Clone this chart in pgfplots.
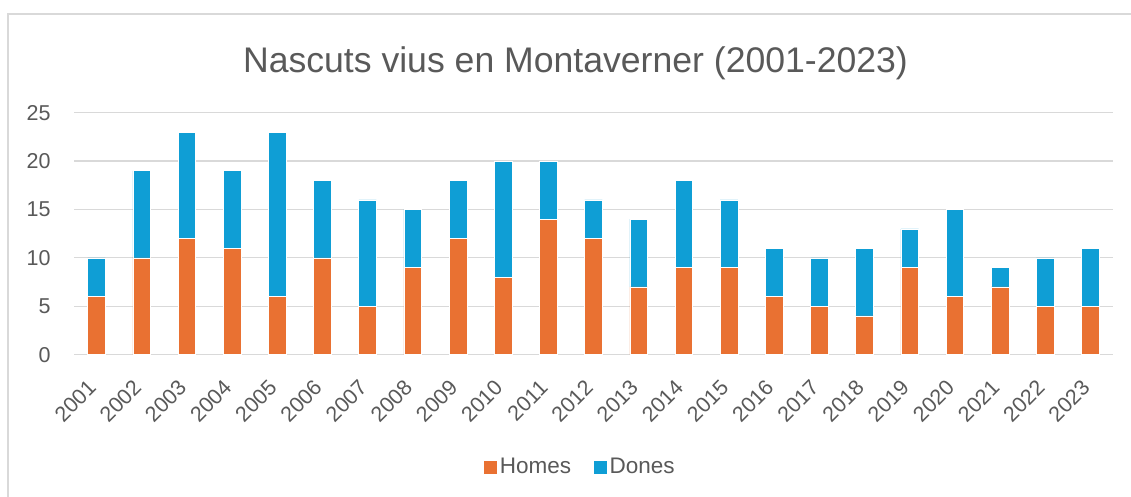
\documentclass[border=0pt]{standalone}
\usepackage{pgfplots}
\pgfplotsset{compat=1.18}
\usepackage{fontspec}
\setmainfont{Liberation Sans}
\definecolor{homes}{HTML}{E97132}
\definecolor{dones}{HTML}{0F9ED5}
\definecolor{txt}{HTML}{595959}
\definecolor{gridc}{HTML}{D9D9D9}
\begin{document}
\begin{tikzpicture}[x=1pt,y=1pt]
\useasboundingbox (0,0) rectangle (1131,497);
\begin{scope}
\clip (0,0) rectangle (1131,497);
\draw[gridc, line width=1.2pt] (8,483) rectangle (1145,-20);
\end{scope}
\node[text=txt, font=\fontsize{35.6}{42}\selectfont] at (575.5,434) {Nascuts vius en Montaverner (2001-2023)};
\begin{axis}[
  at={(74pt,142.3pt)}, anchor=south west,
  scale only axis, width=1039pt, height=242pt,
  xmin=-0.5, xmax=22.5, ymin=0, ymax=25,
  ybar stacked, bar width=17.7pt,
  axis line style={draw=none},
  tick style={draw=none},
  ymajorgrids, major grid style={gridc, line width=1.2pt},
  ytick={0,5,10,15,20,25},
  xtick={0,...,22},
  xticklabels={2001,2002,2003,2004,2005,2006,2007,2008,2009,2010,2011,2012,2013,2014,2015,2016,2017,2018,2019,2020,2021,2022,2023},
  /pgf/number format/assume math mode=true,
  ticklabel style={font=\fontsize{21.5}{24}\selectfont, text=txt},
  yticklabel style={xshift=-20pt},
  xticklabel style={xshift=-2pt, yshift=-27pt, rotate=45, anchor=east},
  legend style={at={(rel axis cs:0.487,-0.464)}, anchor=center, draw=none, legend columns=2, font=\fontsize{22.5}{26}\selectfont, text=txt, /tikz/every even column/.append style={column sep=20pt}},
  legend image code/.code={\fill[#1] (0pt,-7pt) rectangle (14pt,7pt);},
]
\addplot[fill=homes, draw=white, line width=0.6pt] coordinates {(0,6) (1,10) (2,12) (3,11) (4,6) (5,10) (6,5) (7,9) (8,12) (9,8) (10,14) (11,12) (12,7) (13,9) (14,9) (15,6) (16,5) (17,4) (18,9) (19,6) (20,7) (21,5) (22,5)};
\addplot[fill=dones, draw=white, line width=0.6pt] coordinates {(0,4) (1,9) (2,11) (3,8) (4,17) (5,8) (6,11) (7,6) (8,6) (9,12) (10,6) (11,4) (12,7) (13,9) (14,7) (15,5) (16,5) (17,7) (18,4) (19,9) (20,2) (21,5) (22,6)};
\legend{Homes,Dones}
\end{axis}
\end{tikzpicture}
\end{document}
